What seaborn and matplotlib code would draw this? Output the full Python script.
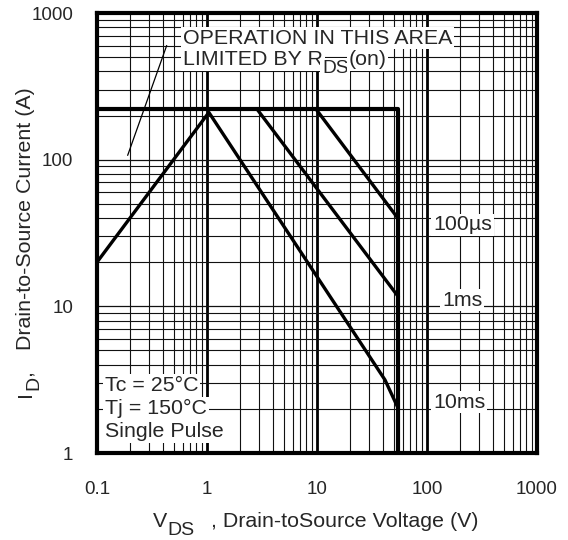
import numpy as np
import pandas as pd
import seaborn as sns
import matplotlib
matplotlib.use("Agg")
import matplotlib.pyplot as plt
from matplotlib.ticker import LogLocator, NullFormatter
from matplotlib.transforms import IdentityTransform

# ---- data ----
vds_limit = [0.1, 55, 55]
id_limit = [221, 221, 1]

vds_10ms = [0.1, 1.04, 41.5, 55]
id_10ms = [20, 210, 3.15, 2.0]

vds_1ms = [2.85, 55]
id_1ms = [221, 11.6]

vds_100us = [9.8, 55]
id_100us = [221, 39.4]

vds_note = [0.19, 0.43]
id_note = [107, 600]

x_ticks = [0.1, 1, 10, 100, 1000]
x_ticklabels = ["0.1", "1", "10", "100", "1000"]
y_ticks = [1, 10, 100, 1000]
y_ticklabels = ["1", "10", "100", "1000"]

pulse_labels = ["100\u00b5s", "1ms", "10ms"]
cond_labels = ["Tc = 25\u00b0C", "Tj = 150\u00b0C", "Single Pulse"]

sns.set_style("white")
plt.rcParams['font.family'] = ['Liberation Sans', 'DejaVu Sans']

W, H = 568, 540
fig = plt.figure(figsize=(W / 100, H / 100), dpi=100)
ax = fig.add_axes([97 / W, (H - 453) / H, 440 / W, 440 / H])
ax.set_xscale("log")
ax.set_yscale("log")
ax.set_xlim(0.1, 1000)
ax.set_ylim(1, 1000)

# grid
ax.xaxis.set_minor_locator(LogLocator(base=10, subs=np.arange(2, 10)))
ax.yaxis.set_minor_locator(LogLocator(base=10, subs=np.arange(2, 10)))
ax.xaxis.set_minor_formatter(NullFormatter())
ax.yaxis.set_minor_formatter(NullFormatter())
ax.grid(which="minor", axis="both", color="#111111", linewidth=0.8)
ax.grid(which="major", axis="x", color="black", linewidth=2.0)
ax.grid(which="major", axis="y", color="#111111", linewidth=0.9)
ax.set_axisbelow(True)

kw = dict(color="black", estimator=None, sort=False, legend=False, ax=ax)
sns.lineplot(x=vds_limit, y=id_limit, linewidth=3.0, **kw)
sns.lineplot(x=vds_10ms, y=id_10ms, linewidth=2.4, **kw)
sns.lineplot(x=vds_1ms, y=id_1ms, linewidth=2.4, **kw)
sns.lineplot(x=vds_100us, y=id_100us, linewidth=2.4, **kw)
sns.lineplot(x=vds_note, y=id_note, linewidth=0.9, **kw)

ax.set_xticks(x_ticks)
ax.set_xticklabels(x_ticklabels)
ax.set_yticks(y_ticks)
ax.set_yticklabels(y_ticklabels)
ax.tick_params(axis="x", which="both", length=0, pad=20, labelsize=13.5)
ax.tick_params(axis="y", which="major", direction="in", length=14, width=2.2,
               pad=17, labelsize=13.5, color="black")
ax.tick_params(axis="y", which="minor", length=0)

for s in ax.spines.values():
    s.set_linewidth(3.0)
    s.set_color("black")
    s.set_zorder(5)

FS = 15.4
renderer = fig.canvas.get_renderer()
box = dict(facecolor="white", edgecolor="none", pad=1.2)


def pix_text(x, y, s, size=FS, rotation=0, target=None, bbox=None, zorder=6):
    """place text with its left/baseline at pixel (x, y) measured from top-left"""
    if target is None:
        t = fig.text(x / W, 1 - y / H, s, fontsize=size, rotation=rotation,
                     rotation_mode="anchor", ha="left", va="baseline",
                     zorder=zorder, bbox=bbox)
    else:
        t = target.text(x, H - y, s, fontsize=size, rotation=rotation,
                        rotation_mode="anchor", ha="left", va="baseline",
                        transform=IdentityTransform(), zorder=zorder, bbox=bbox)
    bb = t.get_window_extent(renderer)
    return bb.width if rotation == 0 else bb.height


def rich(x, y, pieces, rotation=0, target=None, bbox=None):
    """pieces: (text, size, baseline shift down in px, gap before in px)"""
    cur = 0.0
    for s, size, dy, gap in pieces:
        cur += gap
        if rotation == 0:
            cur += pix_text(x + cur, y + dy, s, size, 0, target, bbox)
        else:
            cur += pix_text(x + dy, y - cur, s, size, 90, target, bbox)
    return cur


# annotation texts inside the plot
pix_text(183, 43.5, "OPERATION IN THIS AREA", target=ax, bbox=box)
rich(183, 65, [("LIMITED BY R", FS, 0, 0), ("DS", 13.8, 8, -1), ("(on)", FS, 0, 0)],
     target=ax, bbox=box)
pix_text(433, 230.5, pulse_labels[0], target=ax, bbox=box)
pix_text(442, 305.5, pulse_labels[1], target=ax, bbox=box)
pix_text(433, 407.5, pulse_labels[2], target=ax, bbox=box)
for lab, base in zip(cond_labels, [391, 414, 437]):
    pix_text(105, base, lab, target=ax, bbox=box)

# axis titles with large subscripts
rich(153, 527, [("V", FS, 0, 0), ("DS", 14.0, 8, 0),
                (", Drain-toSource Voltage (V)", FS, 0, 17)])
rich(31, 397, [("I", FS, 0, 0), ("D", 14.0, 7, 1), (",", FS, 0, 0),
               ("Drain-to-Source Current (A)", FS, 0, 20)], rotation=90)

fig.savefig("out.png", dpi=100)
